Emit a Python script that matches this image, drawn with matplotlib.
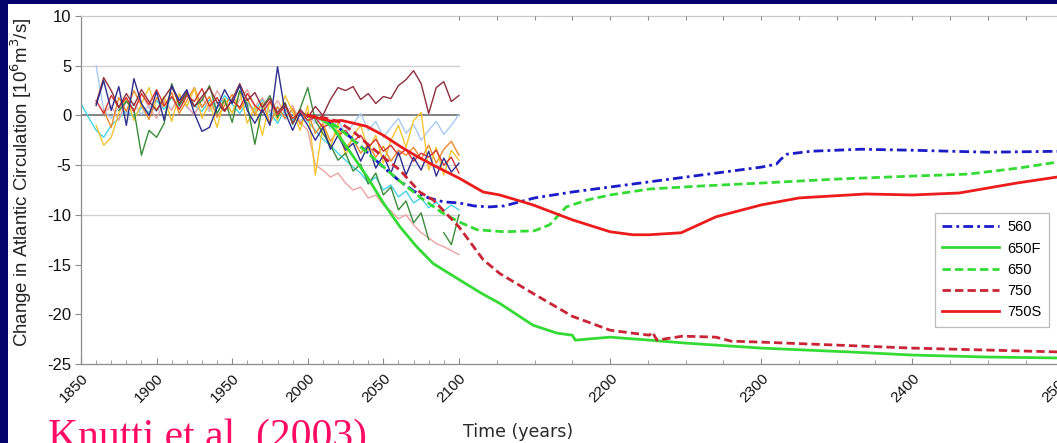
import numpy as np
import matplotlib
matplotlib.use("Agg")
import matplotlib.pyplot as plt
from matplotlib.patches import Rectangle

# ---------------- data ----------------
# ensemble model runs (5-year samples), each: start year + values up to 2100
cyan_start = 1850
cyan_vals = [1.2, -0.2, -1.5, -2.2, -1.0, -0.3, 0.5, -0.2, 0.8, 0.3, 1.5, 0.6, 1.8, 0.9, 2.2, 1.0,
             0.4, 1.6, 0.7, 2.0, 1.1, 0.2, 1.3, 0.5, 1.6, 0.3, -0.8, 0.6, -0.5, 0.4, -0.6, -1.5,
             -2.4, -3.0, -3.8, -4.5, -5.2, -5.8, -6.8, -6.2, -7.5, -7.0, -8.2, -7.6, -8.8, -8.3,
             -9.3, -8.7, -9.6, -9.0, -9.5]
lblue_start = 1860
lblue_vals = [5.0, 0.5, -0.3, 0.8, 0.2, 1.2, 0.1, 1.0, 0.4, 1.5, 0.6, 1.9, 0.8, 0.2, 1.1, 0.4,
              1.4, 0.5, 1.7, 0.6, 1.2, 0.3, 1.0, -0.2, 0.8, -0.4, 0.5, -0.6, 0.2, -0.8, -0.2,
              -1.3, -0.5, -1.8, -0.9, 0.2, -1.5, -0.6, -2.2, -1.2, -0.3, -1.8, -0.9, -2.5, -1.5,
              -0.6, -1.9, -1.0, 0.1]
maroon_start = 1860
maroon_vals = [1.2, 3.8, 2.5, 0.8, 2.2, 1.0, 2.6, 1.4, 0.5, 1.8, 2.9, 1.2, 2.4, 0.9, 1.9, 2.8,
               1.3, 0.4, 1.6, 3.2, 1.5, 2.3, 0.8, 1.7, 0.3, 1.2, -0.8, 0.6, -0.2, 0.9, 0.0, 1.6,
               2.8, 2.5, 2.9, 1.6, 2.2, 1.2, 1.9, 1.7, 3.0, 3.6, 4.5, 3.2, 0.2, 2.8, 3.4, 1.4,
               2.0]
navy_start = 1860
navy_vals = [1.0, 3.5, 0.5, 2.9, -1.0, 3.7, 1.2, 0.0, 2.4, -0.5, 3.0, 1.5, 2.6, 0.2, -1.6, -1.2,
             0.8, 2.6, 1.2, 3.0, 0.5, -0.8, 0.6, -1.0, 4.9, 0.3, -1.5, 0.2, -1.0, -2.5, -1.2,
             -3.4, -2.0, -3.5, -2.8, -4.6, -3.0, -5.3, -4.0, -5.8, -3.7, -6.0, -4.2, -5.5, -3.6,
             -6.1, -4.3, -5.7, -4.8]
dgreen_start = 1875
dgreen_vals = [0.5, 1.4, 0.6, -4.0, -1.5, -2.2, -0.8, 3.2, 1.0, 2.2, 0.9, 1.5, 3.0, 0.2, 1.6,
               -0.7, 2.5, 1.1, -2.9, 0.8, 2.0, -0.2, 1.3, -0.9, 0.7, 2.8, -0.5, -1.8, -3.0,
               -4.5, -3.8, -5.6, -4.9, -6.9, -5.8, -8.0, -7.2, -9.5, -8.6, -10.8, -9.8, -12.5,
               np.nan, -11.8, -13.0, -10.0]
yellow_start = 1860
yellow_vals = [-1.0, -3.0, -2.2, 0.2, 1.8, -0.5, 1.2, 2.8, 0.5, 1.9, -0.6, 2.2, 0.9, 2.7, -0.3,
               1.3, -1.2, 1.7, 0.2, 2.4, -0.8, 0.9, -2.0, 1.4, -0.5, 2.0, 0.4, -1.5, 1.0, -6.0,
               -1.0, -3.2, -0.8, -4.0, -2.0, -1.0, -3.5, -2.0, -4.8, -2.5, -1.0, -3.2, -0.5, 0.3,
               -5.5, -3.2, -6.0, -3.5, -4.5]
orange_start = 1865
orange_vals = [0.5, -1.2, 1.8, 0.4, 2.5, 1.0, -0.4, 1.8, 0.9, 2.3, 0.2, 1.5, 2.8, 0.8, 1.9, -0.2,
               1.0, 2.1, 0.6, 1.7, 0.1, 1.3, -0.8, 0.9, -0.3, 0.7, -0.9, 0.3, -1.8, -0.8, -2.6,
               -1.5, -3.3, -2.4, -3.8, -2.9, -4.2, -3.1, -4.6, -3.5, -4.0, -3.2, -4.4, -3.0, -4.8,
               -3.4, -2.6, -4.0]
pink_start = 1865
pink_vals = [0.2, 1.0, -0.5, 1.5, 0.3, 2.2, 0.8, -0.3, 1.4, 0.5, 2.0, 1.0, 0.0, 1.8, 0.6, 2.5,
             1.2, 0.3, 1.6, 2.6, 0.9, 1.8, 0.4, 1.5, 0.2, 1.0, -0.7, -1.5, -5.0, -5.5, -6.2, -5.8,
             -6.8, -7.5, -7.2, -8.3, -8.0, -9.0, -9.6, -10.4, -10.0, -11.0, -11.8, -12.3, -12.9,
             -13.2, -13.6, -14.0]
redthin_start = 1860
redthin_vals = [1.5, 0.2, 2.0, 0.8, 1.8, 0.4, 2.2, 1.1, 2.6, 1.0, 1.9, 0.6, 2.0, 1.4, 2.7, 0.9,
                1.8, 0.5, 1.5, 0.8, 2.2, 1.0, 0.3, 1.4, 0.1, 0.9, -0.3, 0.4, -0.5, -0.2, -1.2,
                -0.8, -2.0, -1.5, -2.6, -2.0, -3.2, -2.4, -3.6, -3.0, -4.0, -3.4, -4.6, -3.8,
                -4.2, -3.5, -5.0, -4.2, -5.8]

# scenario runs
yr_560 = [2000, 2010, 2020, 2030, 2040, 2050, 2060, 2070, 2080, 2090, 2100, 2110, 2120, 2130,
          2140, 2150, 2175, 2200, 2225, 2250, 2275, 2300, 2310, 2313, 2317, 2333, 2366, 2400,
          2450, 2500]
v_560 = [0.0, -0.4, -1.2, -2.4, -3.8, -5.2, -6.5, -7.6, -8.3, -8.7, -8.8, -9.1, -9.2, -9.1,
         -8.7, -8.3, -7.7, -7.2, -6.7, -6.2, -5.7, -5.2, -4.9, -4.4, -3.9, -3.6, -3.4, -3.5,
         -3.7, -3.6]
yr_650F = [2000, 2008, 2016, 2025, 2039, 2050, 2061, 2072, 2083, 2100, 2115, 2127, 2140, 2149,
           2165, 2175, 2177, 2200, 2226, 2250, 2300, 2330, 2360, 2400, 2450, 2500]
v_650F = [0.0, -0.3, -1.1, -3.0, -6.1, -8.8, -11.2, -13.2, -14.9, -16.5, -17.9, -18.9, -20.2,
          -21.1, -21.9, -22.1, -22.6, -22.3, -22.6, -22.9, -23.4, -23.6, -23.8, -24.1, -24.3,
          -24.4]
yr_650 = [2000, 2010, 2020, 2030, 2045, 2060, 2075, 2089, 2100, 2112, 2130, 2150, 2160, 2171,
          2185, 2200, 2226, 2260, 2300, 2350, 2400, 2437, 2470, 2500]
v_650 = [0.0, -0.3, -1.2, -2.5, -4.5, -6.5, -8.3, -9.8, -10.7, -11.5, -11.7, -11.6, -11.0,
         -9.2, -8.5, -8.0, -7.4, -7.1, -6.8, -6.4, -6.1, -5.9, -5.3, -4.6]
yr_750 = [2000, 2010, 2020, 2030, 2039, 2050, 2061, 2074, 2083, 2100, 2116, 2127, 2149, 2175,
          2200, 2215, 2226, 2228, 2231, 2248, 2270, 2280, 2300, 2350, 2400, 2450, 2500]
v_750 = [0.0, -0.2, -0.6, -1.6, -2.8, -4.2, -5.5, -7.7, -8.5, -11.2, -14.5, -15.9, -17.9,
         -20.2, -21.6, -21.9, -22.1, -21.8, -22.6, -22.2, -22.3, -22.7, -22.8, -23.1, -23.4,
         -23.6, -23.8]
yr_750S = [2000, 2008, 2016, 2022, 2028, 2039, 2050, 2061, 2072, 2083, 2100, 2116, 2127, 2149,
           2175, 2200, 2215, 2226, 2247, 2270, 2300, 2325, 2369, 2400, 2431, 2469, 2500]
v_750S = [0.0, -0.3, -0.6, -0.5, -0.7, -1.1, -2.0, -3.1, -4.1, -5.0, -6.3, -7.7, -8.0, -9.0,
          -10.5, -11.7, -12.0, -12.0, -11.8, -10.2, -9.0, -8.3, -7.9, -8.0, -7.8, -6.8, -6.1]

scen_labels = ["560", "650F", "650", "750", "750S"]
ytick_vals = [10, 5, 0, -5, -10, -15, -20, -25]
xtick_vals = [1850, 1900, 1950, 2000, 2050, 2100, 2200, 2300, 2400, 2500]

# ---------------- figure ----------------
W, H = 1057, 443
fig = plt.figure(figsize=(W / 100, H / 100), dpi=100)
fig.patch.set_facecolor("white")
# dark slide border (left strip and top strip)
fig.patches.append(Rectangle((0, 0), 8 / W, 1, transform=fig.transFigure,
                             facecolor="#03036B", edgecolor="none", zorder=0))
fig.patches.append(Rectangle((0, 1 - 4 / H), 1, 4 / H, transform=fig.transFigure,
                             facecolor="#03036B", edgecolor="none", zorder=0))

AXW = 1063.6 - 81
ax = fig.add_axes([81 / W, 1 - 364 / H, AXW / W, 348 / H])
ax.set_xlim(1850, 2500)
ax.set_ylim(-25, 10)

FONT = "Liberation Sans"
grey = "#8C8C8C"

# background lines in the 1850-2100 panel
for g in (5, -5, -10):
    ax.plot([1850, 2100], [g, g], color="#D0D0D0", lw=1.0, zorder=1)
ax.plot([1850, 2100], [0, 0], color="#7A7A7A", lw=1.3, zorder=1)

ens = [
    (cyan_start, cyan_vals, "#45D3E6"),
    (lblue_start, lblue_vals, "#A9C9F2"),
    (pink_start, pink_vals, "#EBA3A3"),
    (orange_start, orange_vals, "#EE8A2A"),
    (yellow_start, yellow_vals, "#F3C531"),
    (dgreen_start, dgreen_vals, "#3A8C3A"),
    (redthin_start, redthin_vals, "#D23434"),
    (maroon_start, maroon_vals, "#8E2E3E"),
    (navy_start, navy_vals, "#2E2E8E"),
]
for start, vals, col in ens:
    yrs = np.arange(start, start + 5 * len(vals), 5)
    ax.plot(yrs, vals, color=col, lw=1.0, zorder=2)

lw = 2.0
ax.plot(yr_560, v_560, color="#1B1BC8", lw=lw, dashes=(3.5, 1.5, 1.0, 1.5),
        label=scen_labels[0], zorder=4)
ax.plot(yr_650F, v_650F, color="#35DB35", lw=lw, label=scen_labels[1], zorder=4)
ax.plot(yr_650, v_650, color="#35DB35", lw=lw, dashes=(3, 1.5), label=scen_labels[2], zorder=4)
ax.plot(yr_750, v_750, color="#C92536", lw=lw, dashes=(3, 1.5), label=scen_labels[3], zorder=4)
ax.plot(yr_750S, v_750S, color="#EC1C1C", lw=lw, label=scen_labels[4], zorder=4)

# spines
for s in ("left", "bottom", "top"):
    ax.spines[s].set_color(grey)
    ax.spines[s].set_linewidth(0.9)
ax.spines["top"].set_color("#C8C8C8")
ax.spines["right"].set_visible(False)

# ticks
ax.set_yticks(ytick_vals)
ax.set_yticklabels([str(v) for v in ytick_vals], fontfamily=FONT, fontsize=12, color="#111111")
ax.tick_params(axis="y", direction="out", length=4, color=grey, pad=3)
ax.set_xticks(xtick_vals)
ax.set_xticklabels([str(v) for v in xtick_vals], rotation=45, ha="right",
                   rotation_mode="anchor", fontfamily=FONT, fontsize=11, color="#111111")
ax.tick_params(axis="x", direction="in", length=4, color=grey, pad=5)
minor = list(np.arange(1860, 2100, 10)) + list(np.arange(2125, 2500, 25))
ax.set_xticks(minor, minor=True)
ax.tick_params(axis="x", which="minor", direction="in", length=3, color=grey)

# top ticks in the extension part
axt = ax.twiny()
axt.set_xlim(ax.get_xlim())
axt.set_xticks(list(np.arange(2100, 2501, 25)))
axt.set_xticklabels([])
axt.tick_params(axis="x", direction="in", length=3, color=grey)
for s in axt.spines.values():
    s.set_visible(False)

ax.set_ylabel("Change in Atlantic Circulation [10$^6$m$^3$/s]", fontfamily=FONT,
              fontsize=13.4, color="#222222")
ax.yaxis.set_label_coords(-(81 - 34) / AXW, (364 - 182.5) / 348)

leg = ax.legend(loc="upper left", bbox_to_anchor=(935 / W, 1 - 213 / H),
                bbox_transform=fig.transFigure, borderaxespad=0, fancybox=False,
                edgecolor="#BBBBBB", framealpha=1, handlelength=3.9, handletextpad=0.55,
                labelspacing=0.5, borderpad=0.5,
                prop={"family": FONT, "size": 10.5})
leg.get_frame().set_linewidth(0.9)
leg.set_zorder(10)

fig.text(518 / W, 1 - 432 / H, "Time (years)", fontfamily="DejaVu Sans", fontsize=12.5,
         color="#2A2A2A", ha="center", va="center")
fig.text(48 / W, 1 - 448 / H, "Knutti et al. (2003)", fontfamily="Liberation Serif",
         fontsize=30, color="#FF0A64", ha="left", va="baseline")

fig.savefig("out.png", dpi=100, facecolor=fig.get_facecolor())
